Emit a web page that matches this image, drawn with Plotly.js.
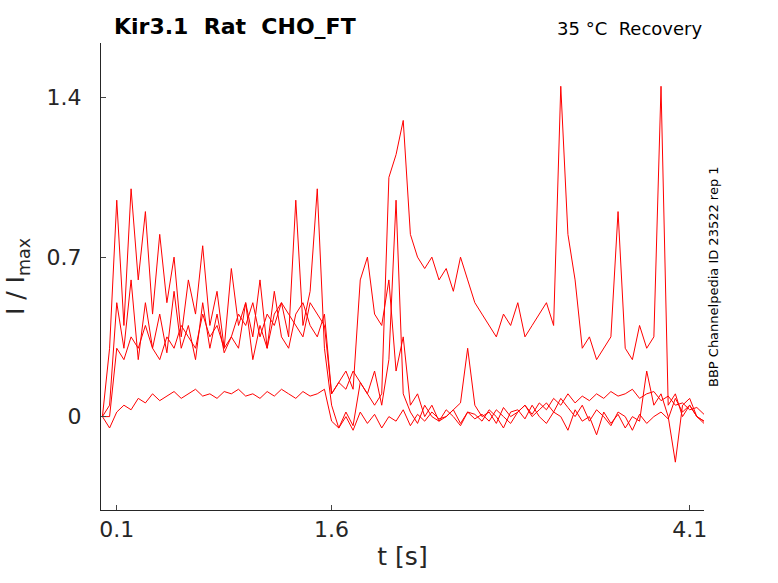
<!DOCTYPE html>
<html>
<head>
<meta charset="utf-8">
<script src="https://cdn.plot.ly/plotly-3.0.1.min.js"></script>
<style>body{margin:0}</style>
</head>
<body>
<div id="plot" style="width:778px;height:583px"></div>
<script>
var tEnd = 4.2;
var xTicks = [0.1, 1.6, 4.1];
var yTicks = [0, 0.7, 1.4];

var traceA = [0.0,-0.05,0.02,0.05,0.03,0.08,0.06,0.1,0.07,0.09,0.11,0.08,0.1,0.12,0.09,0.1,0.08,0.11,0.1,0.12,0.09,0.1,0.08,0.11,0.09,0.12,0.1,0.08,0.11,0.09,0.1,0.12,
  -0.02,-0.05,0.0,-0.06,0.02,-0.03,0.01,-0.05,0.0,-0.02,0.03,-0.04,0.01,-0.02,0.02,-0.01,0.0,0.03,-0.03,0.02,-0.01,0.01,-0.02,0.03,0.0,-0.03,0.02,0.05,0.01,0.06,0.03,0.08,0.05,0.1,0.06,0.09,0.07,0.1,0.08,0.11,0.09,0.1,0.12,0.08,0.1,0.11,0.07,0.09,0.05,0.06,0.03,0.04,0.01];
var traceB = [0,0.3,0.95,0.4,1.0,0.6,0.9,0.45,0.8,0.5,0.7,0.35,0.6,0.45,0.75,0.4,0.55,0.3,0.65,0.4,0.5,0.35,0.6,0.3,0.45,0.5,0.35,0.95,0.4,0.55,1.0,0.3,
  0.05,-0.05,0.02,-0.04,0.15,0.1,0.2,0.05,0.25,0.95,0.1,0.02,-0.03,0.05,0.0,-0.02,0.03,0.0,-0.04,0.02,0.01,-0.02,0.03,0.0,-0.05,0.02,0.03,-0.01,0.05,0.0,-0.03,0.02,0.0,-0.06,0.03,-0.02,0.0,-0.08,0.02,-0.03,0.01,-0.05,0.0,-0.02,0.2,0.05,0.1,0.0,-0.2,0.05,0.08,0.0,-0.02];
var traceC = [0,0.05,0.5,0.3,0.6,0.25,0.5,0.3,0.45,0.28,0.55,0.3,0.4,0.25,0.5,0.3,0.45,0.28,0.35,0.3,0.5,0.25,0.4,0.3,0.55,0.35,0.3,0.45,0.5,0.4,0.35,0.45,
  0.1,0.15,0.2,0.12,0.6,0.7,0.45,0.4,0.6,0.2,0.35,0.05,0.1,0.0,0.05,-0.02,0.0,0.03,0.06,0.3,0.05,0.0,0.02,-0.03,0.04,0.0,0.02,0.05,0.0,0.03,0.06,0.02,0.08,0.04,0.0,0.05,-0.02,0.03,0.0,-0.04,0.02,0.0,-0.06,0.01,-0.03,0.0,0.02,-0.01,0.08,0.02,0.05,0.0,-0.03];
var traceD = [0,0.0,0.3,0.25,0.35,0.3,0.4,0.3,0.25,0.35,0.3,0.4,0.35,0.3,0.45,0.35,0.4,0.3,0.35,0.45,0.4,0.5,0.35,0.45,0.4,0.5,0.45,0.4,0.35,0.5,0.45,0.4,
  0.1,0.15,0.12,0.2,0.15,0.1,0.05,0.1,1.05,1.15,1.3,0.8,0.7,0.65,0.7,0.6,0.65,0.55,0.7,0.6,0.5,0.45,0.4,0.35,0.45,0.4,0.5,0.35,0.4,0.45,0.5,0.4,1.45,0.8,0.6,0.3,0.35,0.25,0.3,0.35,0.9,0.3,0.25,0.4,0.3,0.35,1.45,0.05,0.1,0.0,0.05,0.0,-0.02];

var data = [traceA, traceB, traceC, traceD].map(function (y) {
  return {
    x: y.map((_, i) => i * tEnd / (y.length - 1)),
    y: y, mode: 'lines', line: {color: '#ff0000', width: 1},
    hoverinfo: 'skip', showlegend: false
  };
});

var layout = {
  width: 778, height: 583,
  margin: {l: 101, r: 74, t: 43, b: 73},
  paper_bgcolor: 'white', plot_bgcolor: 'white',
  font: {family: 'DejaVu Sans', color: '#262626'},
  title: {text: '<b>Kir3.1  Rat  CHO_FT</b>', x: 114 / 778, xanchor: 'left', y: 0.968, font: {size: 22, color: 'black'}},
  xaxis: {
    range: [-0.01, 4.2], tickvals: xTicks, ticktext: xTicks.map(String),
    showgrid: false, zeroline: false, showline: true, linecolor: '#262626',
    ticks: 'inside', ticklen: 5, tickfont: {size: 22},
    title: {text: 't [s]', font: {size: 25}, standoff: 6}
  },
  yaxis: {
    range: [-0.41, 1.64], tickvals: yTicks, ticktext: yTicks.map(String),
    showgrid: false, zeroline: false, showline: true, linecolor: '#262626',
    ticks: 'inside', ticklen: 5, tickfont: {size: 22}, ticklabelstandoff: 14,
    title: {text: 'I / I<sub>max</sub>', font: {size: 25}, standoff: 14}
  },
  annotations: [
    {text: '35 °C  Recovery', xref: 'paper', yref: 'paper', x: 1, y: 1.005, xanchor: 'right', yanchor: 'bottom', showarrow: false, font: {size: 18, color: 'black'}},
    {text: 'BBP Channelpedia ID 23522 rep 1', xref: 'paper', yref: 'paper', x: 1.0, y: 0.5, textangle: -90, xanchor: 'left', showarrow: false, font: {size: 13, color: 'black'}}
  ]
};

Plotly.newPlot('plot', data, layout, {displayModeBar: false});
</script>
</body>
</html>
